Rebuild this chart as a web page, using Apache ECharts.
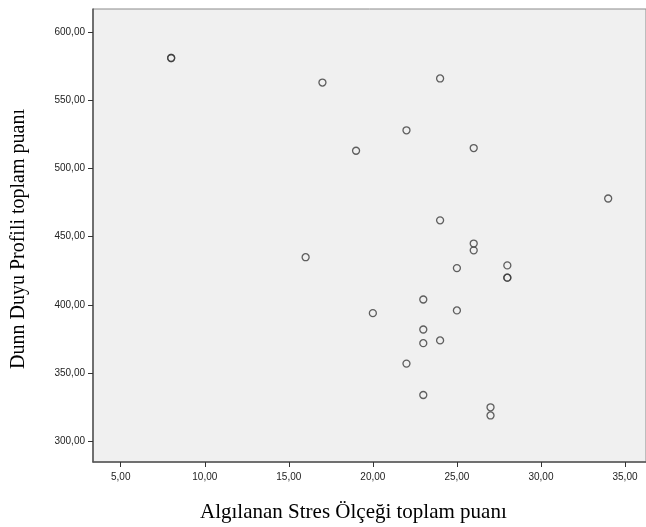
<!DOCTYPE html>
<html>
<head>
<meta charset="utf-8">
<script src="https://cdn.jsdelivr.net/npm/echarts@6/dist/echarts.min.js"></script>
<style>html,body{margin:0;padding:0;background:#fff}#c{width:646px;height:527px}</style>
</head>
<body>
<div id="c"></div>
<script>
const stressScores = [8, 8, 17, 24, 22, 19, 26, 34, 24, 26, 26, 16, 25, 28, 28, 28, 23, 20, 25, 23, 23, 24, 22, 23, 27, 27];
const dunnScores   = [581, 581, 563, 566, 528, 513, 515, 478, 462, 445, 440, 435, 427, 429, 420, 420, 404, 394, 396, 382, 372, 374, 357, 334, 325, 319];
const xTicks = [5, 10, 15, 20, 25, 30, 35];
const yTicks = [300, 350, 400, 450, 500, 550, 600];
const xTitle = 'Algılanan Stres Ölçeği toplam puanı';
const yTitle = 'Dunn Duyu Profili toplam puanı';

const fmt = v => v.toFixed(2).replace('.', ',');
const points = stressScores.map((x, i) => [x, dunnScores[i]]);

const chart = echarts.init(document.getElementById('c'));
chart.setOption({
  animation: false,
  grid: {left: 93, top: 9, right: 0, bottom: 65, outerBoundsMode: 'none', containLabel: false,
         show: true, backgroundColor: '#f0f0f0', borderColor: '#8a8a8a', borderWidth: 1},
  graphic: [
    {type: 'text', left: 200, top: 502,
     style: {text: xTitle, font: '21px "Liberation Serif"', fill: '#000'}},
    {type: 'text', x: 9, y: 239, rotation: Math.PI / 2,
     style: {text: yTitle, font: '20px "Liberation Serif"', fill: '#000', textAlign: 'center', textVerticalAlign: 'top'}}
  ],
  xAxis: {
    type: 'value', min: 3.35, max: 36.25,
    axisLine: {show: true, lineStyle: {color: '#555', width: 1.5}},
    axisTick: {show: true, length: 5, lineStyle: {color: '#333'}, customValues: xTicks},
    axisLabel: {customValues: xTicks, formatter: fmt, fontFamily: 'Liberation Sans', fontSize: 10, color: '#222', margin: 10},
    splitLine: {show: false}
  },
  yAxis: {
    type: 'value', min: 284.9, max: 616.9,
    axisLine: {show: true, lineStyle: {color: '#555', width: 1.5}},
    axisTick: {show: true, length: 5, lineStyle: {color: '#333'}, customValues: yTicks},
    axisLabel: {customValues: yTicks, formatter: fmt, fontFamily: 'Liberation Sans', fontSize: 10, color: '#222', margin: 8},
    splitLine: {show: false}
  },
  series: [{
    type: 'scatter',
    data: points,
    symbol: 'circle',
    symbolSize: 7,
    itemStyle: {color: 'rgba(0,0,0,0)', borderColor: '#3a3a3a', borderWidth: 1.3}
  }]
});
</script>
</body>
</html>
